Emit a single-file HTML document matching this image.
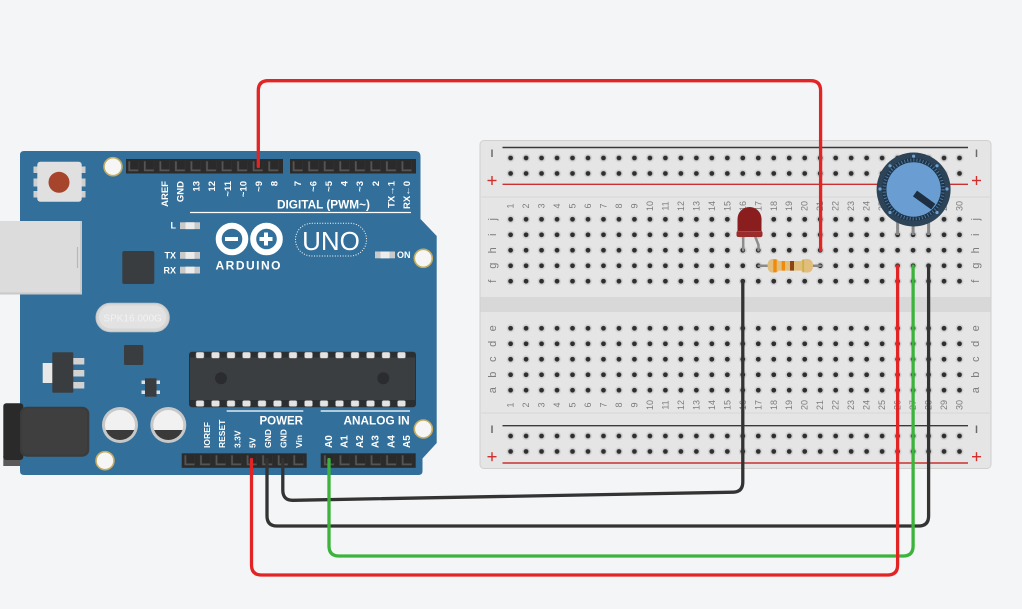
<!DOCTYPE html>
<html><head><meta charset="utf-8">
<style>
html,body{margin:0;padding:0;background:#f4f5f7;width:1022px;height:609px;overflow:hidden;}
svg{display:block;font-family:"Liberation Sans",sans-serif;}
.n{font-size:9px;fill:#7c7c7c;text-anchor:middle;dominant-baseline:central;}
.lt{font-size:11px;fill:#7c7c7c;text-anchor:middle;dominant-baseline:central;}
.dl{font-size:9.5px;font-weight:bold;fill:#fff;text-anchor:end;dominant-baseline:central;}
.pl{font-size:8.5px;font-weight:bold;fill:#fff;text-anchor:start;dominant-baseline:central;}
.al{font-size:10px;font-weight:bold;fill:#fff;text-anchor:start;dominant-baseline:central;}
.sm{font-size:9px;font-weight:bold;fill:#fff;}
</style></head><body>
<svg width="1022" height="609" viewBox="0 0 1022 609" xmlns="http://www.w3.org/2000/svg">
<defs>
<pattern id="hole" width="15.48" height="15.48" patternUnits="userSpaceOnUse">
<circle cx="7.74" cy="7.74" r="4" fill="#d2d2d2"/>
<circle cx="7.74" cy="7.74" r="2.4" fill="#2f2f2f"/>
</pattern>
<pattern id="pin" width="15.55" height="15" patternUnits="userSpaceOnUse">
<rect x="2.8" y="2.5" width="10" height="10" fill="#555"/>
<rect x="4.6" y="2.5" width="8.2" height="8.2" fill="#2a2a2a"/>
</pattern>
<pattern id="cp" width="15.5" height="6" patternUnits="userSpaceOnUse">
<rect x="3.75" y="0" width="8" height="6" rx="1.5" fill="#e4e4e4"/>
</pattern>
<clipPath id="c1"><circle cx="120" cy="425" r="15"/></clipPath>
<clipPath id="c2"><circle cx="168.3" cy="425" r="15"/></clipPath>
</defs>
<rect width="1022" height="609" fill="#f4f5f7"/>

<!-- BREADBOARD -->
<rect x="480" y="140.5" width="511" height="328" rx="4" fill="#e5e5e5" stroke="#d0d0d0"/>
<rect x="480.5" y="297" width="510" height="15" fill="#d8d8d8"/>
<line x1="481" y1="197" x2="990" y2="197" stroke="#d6d6d6"/>
<line x1="481" y1="413" x2="990" y2="413" stroke="#d6d6d6"/>
<line x1="502.5" y1="147.5" x2="968" y2="147.5" stroke="#3a3a3a" stroke-width="1.4"/>
<line x1="502.5" y1="184.3" x2="968" y2="184.3" stroke="#c83232" stroke-width="1.4"/>
<line x1="502.5" y1="425.7" x2="968" y2="425.7" stroke="#3a3a3a" stroke-width="1.4"/>
<line x1="502.5" y1="463" x2="968" y2="463" stroke="#c83232" stroke-width="1.4"/>
<g stroke="#6a6a6a" stroke-width="1.5">
<line x1="492" y1="149.5" x2="492" y2="157"/>
<line x1="976.5" y1="149.5" x2="976.5" y2="157"/>
<line x1="492" y1="425.5" x2="492" y2="433"/>
<line x1="976.5" y1="425.5" x2="976.5" y2="433"/>
</g>
<g stroke="#d03030" stroke-width="1.4">
<line x1="487.5" y1="180.5" x2="496.5" y2="180.5"/><line x1="492" y1="176" x2="492" y2="185"/>
<line x1="972" y1="180.5" x2="981" y2="180.5"/><line x1="976.5" y1="176" x2="976.5" y2="185"/>
<line x1="487.5" y1="456.7" x2="496.5" y2="456.7"/><line x1="492" y1="452.2" x2="492" y2="461.2"/>
<line x1="972" y1="456.7" x2="981" y2="456.7"/><line x1="976.5" y1="452.2" x2="976.5" y2="461.2"/>
</g>
<rect transform="translate(502.86,150.26)" width="464.4" height="30.96" fill="url(#hole)"/>
<rect transform="translate(502.86,211.56)" width="464.4" height="77.4" fill="url(#hole)"/>
<rect transform="translate(502.86,320.56)" width="464.4" height="77.4" fill="url(#hole)"/>
<rect transform="translate(502.86,428.26)" width="464.4" height="30.96" fill="url(#hole)"/>

<!-- column numbers top -->
<g>
<text class="n" transform="translate(510.6,206) rotate(-90)">1</text>
<text class="n" transform="translate(526.1,206) rotate(-90)">2</text>
<text class="n" transform="translate(541.6,206) rotate(-90)">3</text>
<text class="n" transform="translate(557.0,206) rotate(-90)">4</text>
<text class="n" transform="translate(572.5,206) rotate(-90)">5</text>
<text class="n" transform="translate(588.0,206) rotate(-90)">6</text>
<text class="n" transform="translate(603.5,206) rotate(-90)">7</text>
<text class="n" transform="translate(619.0,206) rotate(-90)">8</text>
<text class="n" transform="translate(634.4,206) rotate(-90)">9</text>
<text class="n" transform="translate(649.9,206) rotate(-90)">10</text>
<text class="n" transform="translate(665.4,206) rotate(-90)">11</text>
<text class="n" transform="translate(680.9,206) rotate(-90)">12</text>
<text class="n" transform="translate(696.4,206) rotate(-90)">13</text>
<text class="n" transform="translate(711.8,206) rotate(-90)">14</text>
<text class="n" transform="translate(727.3,206) rotate(-90)">15</text>
<text class="n" transform="translate(742.8,206) rotate(-90)">16</text>
<text class="n" transform="translate(758.3,206) rotate(-90)">17</text>
<text class="n" transform="translate(773.8,206) rotate(-90)">18</text>
<text class="n" transform="translate(789.2,206) rotate(-90)">19</text>
<text class="n" transform="translate(804.7,206) rotate(-90)">20</text>
<text class="n" transform="translate(820.2,206) rotate(-90)">21</text>
<text class="n" transform="translate(835.7,206) rotate(-90)">22</text>
<text class="n" transform="translate(851.2,206) rotate(-90)">23</text>
<text class="n" transform="translate(866.6,206) rotate(-90)">24</text>
<text class="n" transform="translate(882.1,206) rotate(-90)">25</text>
<text class="n" transform="translate(897.6,206) rotate(-90)">26</text>
<text class="n" transform="translate(913.1,206) rotate(-90)">27</text>
<text class="n" transform="translate(928.6,206) rotate(-90)">28</text>
<text class="n" transform="translate(944.0,206) rotate(-90)">29</text>
<text class="n" transform="translate(959.5,206) rotate(-90)">30</text>
</g>
<!-- column numbers bottom -->
<g>
<text class="n" transform="translate(510.6,405) rotate(-90)">1</text>
<text class="n" transform="translate(526.1,405) rotate(-90)">2</text>
<text class="n" transform="translate(541.6,405) rotate(-90)">3</text>
<text class="n" transform="translate(557.0,405) rotate(-90)">4</text>
<text class="n" transform="translate(572.5,405) rotate(-90)">5</text>
<text class="n" transform="translate(588.0,405) rotate(-90)">6</text>
<text class="n" transform="translate(603.5,405) rotate(-90)">7</text>
<text class="n" transform="translate(619.0,405) rotate(-90)">8</text>
<text class="n" transform="translate(634.4,405) rotate(-90)">9</text>
<text class="n" transform="translate(649.9,405) rotate(-90)">10</text>
<text class="n" transform="translate(665.4,405) rotate(-90)">11</text>
<text class="n" transform="translate(680.9,405) rotate(-90)">12</text>
<text class="n" transform="translate(696.4,405) rotate(-90)">13</text>
<text class="n" transform="translate(711.8,405) rotate(-90)">14</text>
<text class="n" transform="translate(727.3,405) rotate(-90)">15</text>
<text class="n" transform="translate(742.8,405) rotate(-90)">16</text>
<text class="n" transform="translate(758.3,405) rotate(-90)">17</text>
<text class="n" transform="translate(773.8,405) rotate(-90)">18</text>
<text class="n" transform="translate(789.2,405) rotate(-90)">19</text>
<text class="n" transform="translate(804.7,405) rotate(-90)">20</text>
<text class="n" transform="translate(820.2,405) rotate(-90)">21</text>
<text class="n" transform="translate(835.7,405) rotate(-90)">22</text>
<text class="n" transform="translate(851.2,405) rotate(-90)">23</text>
<text class="n" transform="translate(866.6,405) rotate(-90)">24</text>
<text class="n" transform="translate(882.1,405) rotate(-90)">25</text>
<text class="n" transform="translate(897.6,405) rotate(-90)">26</text>
<text class="n" transform="translate(913.1,405) rotate(-90)">27</text>
<text class="n" transform="translate(928.6,405) rotate(-90)">28</text>
<text class="n" transform="translate(944.0,405) rotate(-90)">29</text>
<text class="n" transform="translate(959.5,405) rotate(-90)">30</text>
</g>
<!-- row letters -->
<g>
<text class="lt" transform="translate(493,219.3) rotate(-90)">j</text>
<text class="lt" transform="translate(493,234.8) rotate(-90)">i</text>
<text class="lt" transform="translate(493,250.3) rotate(-90)">h</text>
<text class="lt" transform="translate(493,265.7) rotate(-90)">g</text>
<text class="lt" transform="translate(493,281.2) rotate(-90)">f</text>
<text class="lt" transform="translate(493,328.3) rotate(-90)">e</text>
<text class="lt" transform="translate(493,343.8) rotate(-90)">d</text>
<text class="lt" transform="translate(493,359.3) rotate(-90)">c</text>
<text class="lt" transform="translate(493,374.7) rotate(-90)">b</text>
<text class="lt" transform="translate(493,390.2) rotate(-90)">a</text>
<text class="lt" transform="translate(976,219.3) rotate(-90)">j</text>
<text class="lt" transform="translate(976,234.8) rotate(-90)">i</text>
<text class="lt" transform="translate(976,250.3) rotate(-90)">h</text>
<text class="lt" transform="translate(976,265.7) rotate(-90)">g</text>
<text class="lt" transform="translate(976,281.2) rotate(-90)">f</text>
<text class="lt" transform="translate(976,328.3) rotate(-90)">e</text>
<text class="lt" transform="translate(976,343.8) rotate(-90)">d</text>
<text class="lt" transform="translate(976,359.3) rotate(-90)">c</text>
<text class="lt" transform="translate(976,374.7) rotate(-90)">b</text>
<text class="lt" transform="translate(976,390.2) rotate(-90)">a</text>
</g>

<!-- ARDUINO -->
<rect x="31.5" y="211.5" width="18" height="92" rx="7" fill="#e6e6e6"/>
<path d="M24,151 H415 Q420.5,151 420.5,156.5 V219 L436.7,236 V443 L422.5,458.5 V471 Q422.5,475 418.5,475 H24 Q20,475 20,471 V155 Q20,151 24,151 Z" fill="#32709b"/>
<!-- USB -->
<rect x="0" y="221" width="82" height="73.5" fill="#dcdcdc"/>
<rect x="80" y="221" width="2" height="73.5" fill="#c9c9c9"/>
<rect x="0" y="292.5" width="82" height="2" fill="#c9c9c9"/>
<line x1="77.5" y1="247" x2="77.5" y2="268" stroke="#b8b8b8" stroke-width="1.2"/>
<!-- reset button -->
<g fill="#cfcfcf">
<rect x="33.5" y="166.5" width="4" height="6.5"/><rect x="33.5" y="178.5" width="4" height="8"/><rect x="33.5" y="191" width="4" height="6.5"/>
<rect x="81.5" y="166.5" width="4" height="6.5"/><rect x="81.5" y="178.5" width="4" height="8"/><rect x="81.5" y="191" width="4" height="6.5"/>
</g>
<rect x="37.3" y="161.7" width="44.4" height="40" rx="3" fill="#e0e0e0"/>
<circle cx="59" cy="182.3" r="10.5" fill="#a6452b"/>
<!-- mounting holes -->
<g fill="#f6f6f6" stroke="#c4ad62" stroke-width="1.6">
<circle cx="113" cy="166.7" r="9"/>
<circle cx="423.3" cy="258.3" r="9"/>
<circle cx="105" cy="460.7" r="9"/>
<circle cx="423.3" cy="429" r="9"/>
</g>
<!-- headers top -->
<rect x="126" y="159" width="157" height="14.5" fill="#2b2b2b"/>
<rect transform="translate(125.55,158.75)" width="155.5" height="15" fill="url(#pin)"/>
<rect x="290" y="159" width="126" height="14.5" fill="#2b2b2b"/>
<rect transform="translate(289.9,158.75)" width="124.4" height="15" fill="url(#pin)"/>
<!-- digital labels -->
<text class="dl" transform="translate(165.7,181) rotate(-90)">AREF</text>
<text class="dl" transform="translate(181,181) rotate(-90)">GND</text>
<text class="dl" transform="translate(197,181) rotate(-90)">13</text>
<text class="dl" transform="translate(212.3,181) rotate(-90)">12</text>
<text class="dl" transform="translate(228.3,181) rotate(-90)">~11</text>
<text class="dl" transform="translate(244,181) rotate(-90)">~10</text>
<text class="dl" transform="translate(259.5,181) rotate(-90)">~9</text>
<text class="dl" transform="translate(275,181) rotate(-90)">8</text>
<text class="dl" transform="translate(298.5,181) rotate(-90)">7</text>
<text class="dl" transform="translate(314,181) rotate(-90)">~6</text>
<text class="dl" transform="translate(329.7,181) rotate(-90)">~5</text>
<text class="dl" transform="translate(345,181) rotate(-90)">4</text>
<text class="dl" transform="translate(360.7,181) rotate(-90)">~3</text>
<text class="dl" transform="translate(376.3,181) rotate(-90)">2</text>
<text class="dl" transform="translate(392,181) rotate(-90)">TX→1</text>
<text class="dl" transform="translate(407.5,181) rotate(-90)">RX←0</text>
<text x="277" y="208.3" font-size="11.8" font-weight="bold" fill="#fff">DIGITAL (PWM~)</text>
<line x1="190" y1="212.5" x2="411" y2="212.5" stroke="#fff" stroke-width="1.2"/>
<!-- L TX RX leds -->
<text class="sm" x="176" y="228.6" text-anchor="end">L</text>
<text class="sm" x="176" y="258.6" text-anchor="end">TX</text>
<text class="sm" x="176" y="273.6" text-anchor="end">RX</text>
<g>
<rect x="180" y="222.3" width="20" height="6.8" fill="#c9c9c9"/><rect x="185.5" y="222.3" width="9" height="6.8" fill="#ececec"/>
<rect x="180" y="252" width="20" height="6.8" fill="#c9c9c9"/><rect x="185.5" y="252" width="9" height="6.8" fill="#ececec"/>
<rect x="180" y="266.7" width="20" height="6.8" fill="#c9c9c9"/><rect x="185.5" y="266.7" width="9" height="6.8" fill="#ececec"/>
<rect x="375" y="251.5" width="20" height="6.8" fill="#c9c9c9"/><rect x="380.5" y="251.5" width="9" height="6.8" fill="#ececec"/>
</g>
<text class="sm" x="397" y="258.2">ON</text>
<!-- logo -->
<circle cx="232" cy="239" r="13.3" fill="none" stroke="#fff" stroke-width="6"/>
<circle cx="266.5" cy="239" r="13.3" fill="none" stroke="#fff" stroke-width="6"/>
<rect x="225" y="237" width="13" height="4" fill="#fff"/>
<rect x="259.5" y="237" width="13" height="4" fill="#fff"/>
<rect x="264" y="232.5" width="4" height="13" fill="#fff"/>
<text x="215.5" y="269.5" font-size="12" font-weight="bold" fill="#fff" letter-spacing="1.5">ARDUINO</text>
<rect x="295.5" y="223.3" width="71" height="32.7" rx="16.3" fill="none" stroke="#fff" stroke-width="1" stroke-dasharray="1 1.6"/>
<text x="331" y="250" font-size="26" fill="#fff" text-anchor="middle">UNO</text>
<!-- 16u2 chip -->
<rect x="122.3" y="251" width="32" height="33" rx="2" fill="#3a3d40"/>
<!-- crystal -->
<rect x="96" y="303.3" width="73.3" height="28.4" rx="14.2" fill="#d6d6d6" stroke="#c6c6c6"/>
<rect x="99" y="305.5" width="67.3" height="23" rx="11.5" fill="#e2e2e2"/>
<text x="132.6" y="321.5" font-size="10" fill="#f2f2f2" text-anchor="middle">SPK16.000G</text>
<!-- regulator -->
<rect x="42.7" y="363" width="10" height="20" fill="#e8e8e8"/>
<rect x="52.3" y="352.3" width="21" height="40.4" rx="1" fill="#3a3d40"/>
<g fill="#d2d2d2">
<rect x="73.3" y="358" width="11" height="6.5"/><rect x="73.3" y="370" width="11" height="6.5"/><rect x="73.3" y="382" width="11" height="6.5"/>
</g>
<rect x="124" y="345" width="19.3" height="20" rx="1.5" fill="#3a3d40"/>
<!-- transistor -->
<g fill="#e0e0e0">
<rect x="141.5" y="380.5" width="4" height="3.5"/><rect x="141.5" y="390.5" width="4" height="3.5"/>
<rect x="156" y="380.5" width="4" height="3.5"/><rect x="156" y="390.5" width="4" height="3.5"/>
</g>
<rect x="145" y="378.3" width="11.5" height="18.4" fill="#3a3d40"/>
<!-- capacitors -->
<circle cx="120" cy="425" r="18" fill="#c8c8c8"/>
<circle cx="120" cy="425" r="15" fill="#f1f1f1"/>
<rect x="100" y="430" width="40" height="20" fill="#3a3a3a" clip-path="url(#c1)"/>
<circle cx="168.3" cy="425" r="18" fill="#c8c8c8"/>
<circle cx="168.3" cy="425" r="15" fill="#f1f1f1"/>
<rect x="148" y="430" width="40" height="20" fill="#3a3a3a" clip-path="url(#c2)"/>
<!-- power jack -->
<rect x="3.3" y="456" width="17" height="10" fill="#5a5a5a"/>
<rect x="3.3" y="403.3" width="20" height="56.7" rx="3" fill="#2a2a2a"/>
<rect x="20" y="406.7" width="69.3" height="50" rx="7" fill="#3b3b3b"/>
<rect x="22" y="408.5" width="65" height="46" rx="6" fill="#3f3f3f"/>
<!-- atmega328 -->
<rect x="189" y="351.7" width="227" height="55.6" rx="3" fill="#2c2f32"/>
<rect x="190" y="357.5" width="225" height="42.5" fill="#3b3e41"/>
<rect transform="translate(192.25,352.2)" width="217" height="6" fill="url(#cp)"/>
<rect transform="translate(192.25,400.5)" width="217" height="6" fill="url(#cp)"/>
<circle cx="221" cy="378.3" r="6" fill="#2a2c2f"/>
<circle cx="383.3" cy="378.3" r="6" fill="#2a2c2f"/>
<!-- power / analog labels -->
<line x1="226.7" y1="411" x2="303.3" y2="411" stroke="#fff" stroke-width="1.2"/>
<line x1="320.7" y1="411" x2="410" y2="411" stroke="#fff" stroke-width="1.2"/>
<text x="259.5" y="424.3" font-size="11.5" font-weight="bold" fill="#fff">POWER</text>
<text x="343.5" y="424.3" font-size="11.8" font-weight="bold" fill="#fff">ANALOG IN</text>
<text class="pl" transform="translate(207,448) rotate(-90)">IOREF</text>
<text class="pl" transform="translate(222,448) rotate(-90)">RESET</text>
<text class="pl" transform="translate(237.5,448) rotate(-90)">3.3V</text>
<text class="pl" transform="translate(252.5,448) rotate(-90)">5V</text>
<text class="pl" transform="translate(268,448) rotate(-90)">GND</text>
<text class="pl" transform="translate(283.5,448) rotate(-90)">GND</text>
<text class="pl" transform="translate(299,448) rotate(-90)">Vin</text>
<text class="al" transform="translate(329.5,448) rotate(-90)">A0</text>
<text class="al" transform="translate(345,448) rotate(-90)">A1</text>
<text class="al" transform="translate(360.5,448) rotate(-90)">A2</text>
<text class="al" transform="translate(376,448) rotate(-90)">A3</text>
<text class="al" transform="translate(392,448) rotate(-90)">A4</text>
<text class="al" transform="translate(407.5,448) rotate(-90)">A5</text>
<!-- bottom headers -->
<rect x="181.7" y="453.3" width="125" height="14.5" fill="#2b2b2b"/>
<rect transform="translate(181.7,452.8)" width="124.4" height="15" fill="url(#pin)"/>
<rect x="320.7" y="453.3" width="95" height="14.5" fill="#2b2b2b"/>
<rect transform="translate(321.2,452.8)" width="93.3" height="15" fill="url(#pin)"/>

<!-- LED -->
<path d="M743.2,236 V250.3" stroke="#8d8d8d" stroke-width="2.5" fill="none" stroke-linecap="round"/>
<path d="M755,236 L758.5,245 V250.3" stroke="#8d8d8d" stroke-width="2.5" fill="none" stroke-linecap="round"/>
<path d="M737.5,236 V219 A12,12 0 0 1 761.5,219 V236 Z" fill="#8a1d1d"/>
<rect x="736.5" y="231" width="26" height="6" rx="2" fill="#9b2c2c"/>
<line x1="737" y1="231.5" x2="762" y2="231.5" stroke="#b04545" stroke-width="1"/>
<!-- resistor -->
<line x1="758.7" y1="265.8" x2="820.6" y2="265.8" stroke="#8a8a8a" stroke-width="2.5" stroke-linecap="round"/>
<path d="M767.5,265.8 Q767.5,259 773,259 Q777,259 779,261 H801 Q803,259 807,259 Q813,259 813,265.8 Q813,272.6 807,272.6 Q803,272.6 801,270.6 H779 Q777,272.6 773,272.6 Q767.5,272.6 767.5,265.8 Z" fill="#e2be7c"/>
<rect x="773.3" y="259.3" width="3.4" height="13" fill="#f08a0c"/>
<rect x="781.7" y="261" width="3.3" height="9.6" fill="#f08a0c"/>
<rect x="790" y="261" width="4" height="9.6" fill="#8b4513"/>
<rect x="802.3" y="259.5" width="1.8" height="12.8" fill="#c9b342"/>

<!-- WIRES -->
<g fill="none" stroke-width="3.3" stroke-linecap="round" stroke-linejoin="round">
<path d="M258.3,166.5 V90.7 Q258.3,80.7 268.3,80.7 H810.6 Q820.6,80.7 820.6,90.7 V250.3" stroke="#e32424"/>
<path d="M282.8,459.5 V490 Q282.8,500.5 293,500.3 L733,492.2 Q742.8,492 742.8,482 V281.3" stroke="#333"/>
<path d="M267,459.5 V516 Q267,526 277,526 H918.6 Q928.6,526 928.6,516 V266" stroke="#333"/>
<path d="M329,459.5 V546 Q329,556 339,556 H903.1 Q913.1,556 913.1,546 V266" stroke="#3cb43c"/>
<path d="M251.5,459.5 V565 Q251.5,575 261.5,575 H887.6 Q897.6,575 897.6,565 V266" stroke="#e32424"/>
</g>

<!-- POTENTIOMETER -->
<g stroke="#8a8a8a" stroke-width="3">
<line x1="897.6" y1="220" x2="897.6" y2="235"/>
<line x1="913.1" y1="220" x2="913.1" y2="235"/>
<line x1="928.6" y1="220" x2="928.6" y2="235"/>
</g>
<circle cx="913.6" cy="189.5" r="37" fill="#2c4358"/>
<circle cx="913.6" cy="189.5" r="31.5" fill="#1e3346"/>
<circle cx="913.6" cy="189.5" r="29.5" fill="none" stroke="#4c78a2" stroke-width="3.2" stroke-dasharray="1 2.08"/>
<circle cx="913.6" cy="189.5" r="27.2" fill="#6a9ed2"/>
<g fill="#6fa2d0">
<circle cx="913.6" cy="156.2" r="1.6"/>
<circle cx="880" cy="189" r="1.6"/>
<circle cx="947" cy="189" r="1.6"/>
<circle cx="890" cy="165.8" r="1.6"/>
<circle cx="937" cy="165.8" r="1.6"/>
<circle cx="890" cy="212.5" r="1.6"/>
<circle cx="937" cy="212.5" r="1.6"/>
</g>
<line x1="915" y1="193.5" x2="933.3" y2="206.7" stroke="#1d2f40" stroke-width="7"/>
</svg>
</body></html>
